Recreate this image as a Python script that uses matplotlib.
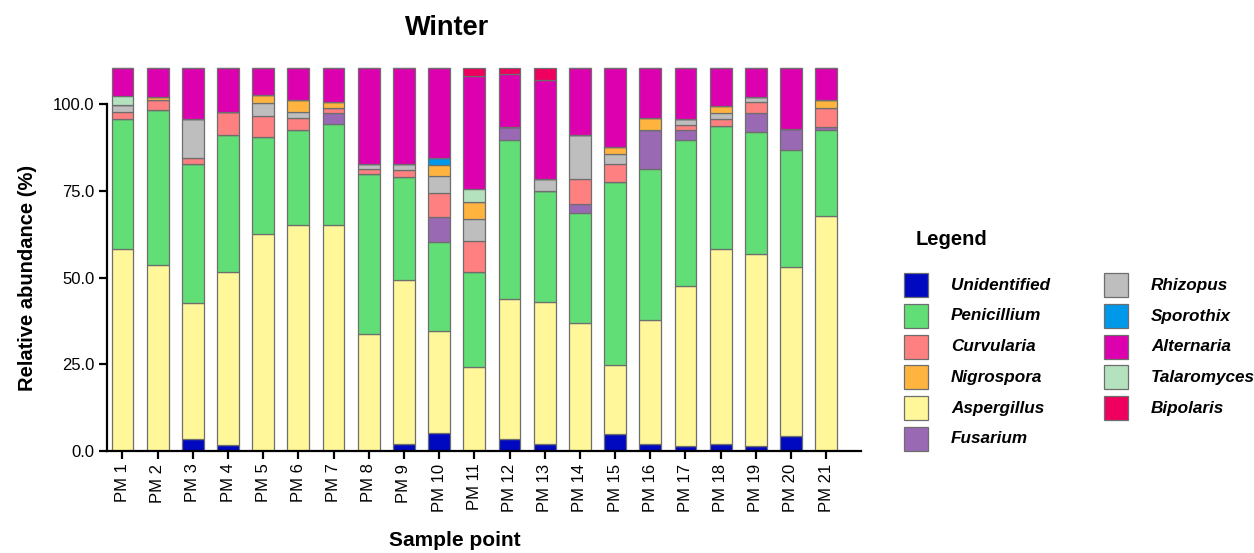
import matplotlib
matplotlib.use("Agg")
import matplotlib.pyplot as plt
from matplotlib.patches import Rectangle
import numpy as np

plt.rcParams['font.family'] = ['Liberation Sans', 'DejaVu Sans']

samples = [f"PM {i}" for i in range(1, 22)]

# Genera in stacking order (bottom to top)
genera = ["Unidentified", "Aspergillus", "Penicillium", "Fusarium", "Curvularia",
          "Rhizopus", "Nigrospora", "Sporothix", "Talaromyces", "Alternaria", "Bipolaris"]

colors = {
    "Unidentified": "#0008C0",
    "Penicillium": "#62DE76",
    "Curvularia": "#FF8080",
    "Nigrospora": "#FFB440",
    "Aspergillus": "#FFF799",
    "Fusarium": "#9A69B4",
    "Rhizopus": "#BEBEBE",
    "Sporothix": "#0098E8",
    "Alternaria": "#DC00AE",
    "Talaromyces": "#B4E2BE",
    "Bipolaris": "#F0005E",
}

# Relative abundance per sample point
unidentified = [0, 0, 3.6, 1.7, 0, 0, 0, 0, 1.9, 5.1, 0, 3.6, 1.9, 0, 5.0, 1.9, 1.4, 1.9, 1.4, 4.3, 0]
aspergillus = [58.3, 53.5, 39.0, 49.9, 62.4, 65.0, 65.0, 33.6, 47.5, 29.5, 24.1, 40.1, 41.0, 36.8, 19.8, 35.9, 46.1, 56.2, 55.5, 48.8, 67.8]
penicillium = [37.3, 44.7, 40.0, 39.4, 28.1, 27.4, 29.1, 46.3, 29.6, 25.7, 27.5, 45.8, 32.0, 31.9, 52.6, 43.4, 42.0, 35.6, 34.9, 33.7, 24.6]
fusarium = [0, 0, 0, 0, 0, 0, 3.4, 0, 0, 7.0, 0, 3.8, 0, 2.4, 0, 11.2, 2.9, 0, 5.6, 5.9, 0.9]
curvularia = [2.2, 2.9, 1.9, 6.8, 5.9, 3.7, 1.3, 1.3, 1.9, 7.0, 8.8, 0, 0, 7.4, 5.2, 0, 1.5, 1.9, 3.2, 0, 5.6]
rhizopus = [2.0, 0, 11.1, 0, 3.8, 1.7, 0, 1.4, 1.7, 5.0, 6.6, 0, 3.6, 12.7, 2.9, 0, 1.7, 1.9, 1.4, 0, 0]
nigrospora = [0, 0.9, 0, 0, 2.3, 3.3, 1.9, 0, 0, 3.2, 4.7, 0, 0, 0, 2.2, 3.7, 0, 1.8, 0, 0, 2.3]
sporothix = [0, 0, 0, 0, 0, 0, 0, 0, 0, 2.0, 0, 0, 0, 0, 0, 0, 0, 0, 0, 0, 0]
talaromyces = [2.4, 0, 0, 0, 0, 0, 0, 0, 0, 0, 3.9, 0, 0, 0, 0, 0, 0, 0, 0, 0, 0]
alternaria = [8.3, 8.5, 14.9, 12.7, 8.0, 9.4, 9.8, 27.9, 27.9, 26.0, 32.4, 15.2, 28.3, 19.3, 22.8, 14.4, 14.9, 11.2, 8.5, 17.8, 9.3]
bipolaris = [0, 0, 0, 0, 0, 0, 0, 0, 0, 0, 2.5, 2.0, 3.7, 0, 0, 0, 0, 0, 0, 0, 0]

series = {
    "Unidentified": unidentified,
    "Aspergillus": aspergillus,
    "Penicillium": penicillium,
    "Fusarium": fusarium,
    "Curvularia": curvularia,
    "Rhizopus": rhizopus,
    "Nigrospora": nigrospora,
    "Sporothix": sporothix,
    "Talaromyces": talaromyces,
    "Alternaria": alternaria,
    "Bipolaris": bipolaris,
}

legend_order = ["Unidentified", "Penicillium", "Curvularia", "Nigrospora", "Aspergillus",
                "Fusarium", "Rhizopus", "Sporothix", "Alternaria", "Talaromyces", "Bipolaris"]

yticks = [0, 25, 50, 75, 100]

fig = plt.figure(figsize=(12.54, 5.53), dpi=100)
ax = fig.add_axes([0.0853, 0.1844, 0.6016, 0.6966])

x = np.arange(len(samples))
bottom = np.zeros(len(samples))
for g in genera:
    vals = np.array(series[g], dtype=float)
    ax.bar(x, vals, bottom=bottom, width=0.62, color=colors[g],
           edgecolor="#6e6e6e", linewidth=0.9, zorder=2)
    bottom += vals

ax.set_xlim(-0.44, 21.0)
ax.set_ylim(0, 111)
ax.set_yticks(yticks)
ax.set_yticklabels([f"{v:.1f}" for v in yticks], fontsize=12)
ax.set_xticks(x)
ax.set_xticklabels(samples, rotation=90, fontsize=12)

for side in ("top", "right"):
    ax.spines[side].set_visible(False)
ax.spines["left"].set_bounds(0, 100)
for side in ("left", "bottom"):
    ax.spines[side].set_linewidth(1.6)
ax.tick_params(axis="both", direction="out", length=6, width=1.6, colors="black", pad=3)

fig.text(447 / 1254, 1 - 28 / 553, "Winter", ha="center", va="center",
         fontsize=19.5, fontweight="bold")
fig.text(28 / 1254, 1 - 278 / 553, "Relative abundance (%)", ha="center", va="center",
         rotation=90, fontsize=14.5, fontweight="bold")
fig.text(455 / 1254, 1 - 540 / 553, "Sample point", ha="center", va="center",
         fontsize=15, fontweight="bold")

# Legend block drawn in figure pixel space
W, H = 1254, 553
fig.text(916 / W, 1 - 240 / H, "Legend", ha="left", va="center",
         fontsize=14.5, fontweight="bold")
col_x = [904, 1104]
row_y0, row_dy, box = 285.3, 30.7, 24
for i, name in enumerate(legend_order):
    col, row = divmod(i, 6)
    px = col_x[col]
    py = row_y0 + row * row_dy
    fig.add_artist(Rectangle((px / W, 1 - (py + box / 2) / H), box / W, box / H,
                             transform=fig.transFigure, facecolor=colors[name],
                             edgecolor="#6e6e6e", linewidth=0.9))
    fig.text((px + 47) / W, 1 - py / H, name, ha="left", va="center",
             fontsize=12.3, fontweight="bold", fontstyle="italic")

fig.savefig("out.png", dpi=100)
